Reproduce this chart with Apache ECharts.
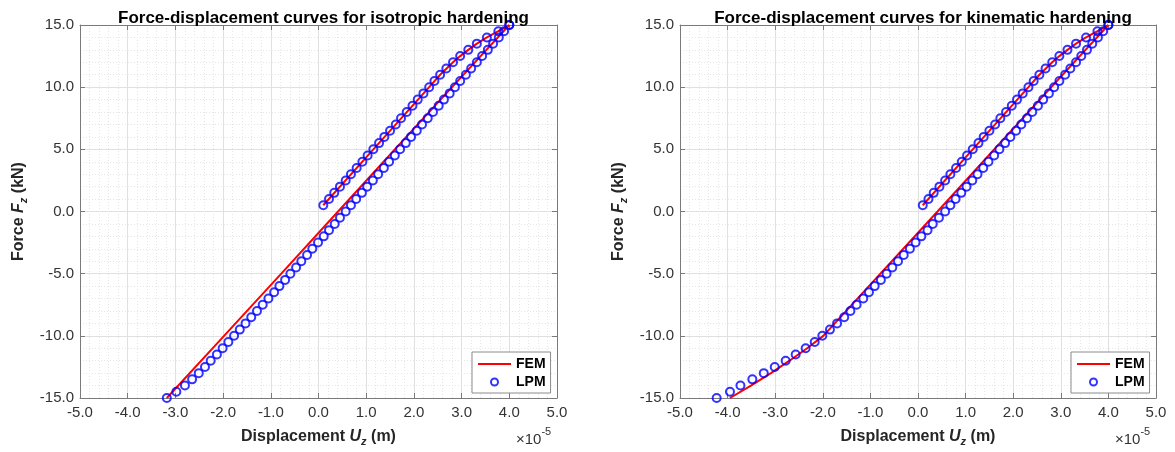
<!DOCTYPE html>
<html>
<head>
<meta charset="utf-8">
<title>Force-displacement curves</title>
<script src="https://cdn.jsdelivr.net/npm/echarts@6/dist/echarts.min.js"></script>
<style>
html, body { margin: 0; padding: 0; background: #fff; }
#container { width: 1175px; height: 452px; }
</style>
</head>
<body>
<div id="container"></div>
<script>
// displacement in 1e-5 m, force in kN
var titles = ['Force-displacement curves for isotropic hardening', 'Force-displacement curves for kinematic hardening'];
var xRange = [-5, 5], xStep = 1;
var yRange = [-15, 15], yStep = 5;

// LPM loading branch (same for both plots)
var loadF = [0.5, 1.0, 1.5, 2.0, 2.5, 3.0, 3.5, 4.0, 4.5, 5.0, 5.5, 6.0, 6.5, 7.0, 7.5,
             8.0, 8.5, 9.0, 9.5, 10.0, 10.5, 11.0, 11.5, 12.0, 12.5, 13.0, 13.5, 14.0, 14.5, 15.0];
var loadX = [0.10, 0.22, 0.33, 0.45, 0.57, 0.68, 0.80, 0.92, 1.03, 1.15, 1.27, 1.38, 1.50, 1.62, 1.73,
             1.85, 1.97, 2.08, 2.20, 2.32, 2.43, 2.55, 2.68, 2.82, 2.97, 3.14, 3.32, 3.53, 3.77, 4.00];

// LPM unloading branch
var unloadF = [15.0, 14.5, 14.0, 13.5, 13.0, 12.5, 12.0, 11.5, 11.0, 10.5, 10.0, 9.5, 9.0, 8.5, 8.0,
               7.5, 7.0, 6.5, 6.0, 5.5, 5.0, 4.5, 4.0, 3.5, 3.0, 2.5, 2.0, 1.5, 1.0, 0.5, 0.0,
               -0.5, -1.0, -1.5, -2.0, -2.5, -3.0, -3.5, -4.0, -4.5, -5.0, -5.5, -6.0, -6.5, -7.0, -7.5,
               -8.0, -8.5, -9.0, -9.5, -10.0, -10.5, -11.0, -11.5, -12.0, -12.5, -13.0, -13.5, -14.0, -14.5, -15.0];
var unloadIsoX = [4.00, 3.89, 3.78, 3.66, 3.55, 3.43, 3.32, 3.20, 3.09, 2.97, 2.86, 2.75, 2.63, 2.52, 2.40,
                  2.29, 2.17, 2.06, 1.94, 1.83, 1.71, 1.60, 1.48, 1.37, 1.25, 1.14, 1.02, 0.91, 0.79, 0.68, 0.57,
                  0.45, 0.34, 0.22, 0.11, -0.01, -0.13, -0.24, -0.36, -0.47, -0.59, -0.70, -0.82, -0.93, -1.05, -1.17,
                  -1.29, -1.41, -1.53, -1.65, -1.77, -1.89, -2.01, -2.13, -2.26, -2.38, -2.51, -2.65, -2.80, -2.98, -3.18];
var unloadKinX = [4.00, 3.89, 3.78, 3.66, 3.55, 3.43, 3.32, 3.20, 3.09, 2.97, 2.86, 2.75, 2.63, 2.52, 2.40,
                  2.29, 2.17, 2.06, 1.94, 1.83, 1.71, 1.60, 1.48, 1.37, 1.25, 1.14, 1.02, 0.91, 0.79, 0.68, 0.57,
                  0.44, 0.31, 0.20, 0.07, -0.05, -0.17, -0.30, -0.42, -0.54, -0.66, -0.78, -0.91, -1.03, -1.15, -1.29,
                  -1.42, -1.55, -1.70, -1.85, -2.01, -2.17, -2.36, -2.57, -2.78, -3.01, -3.24, -3.48, -3.73, -3.95, -4.23];

// FEM curves
var femLoadF = [0.5, 5.0, 10.0, 11.0, 12.0, 12.5, 13.0, 13.5, 14.0, 14.5, 15.0];
var femLoadX = [0.10, 1.15, 2.32, 2.55, 2.82, 2.97, 3.14, 3.32, 3.53, 3.77, 4.00];
var femIsoF = [15.0, 10.0, 5.0, 0.0, -5.0, -10.0, -15.0];
var femIsoX = [4.00, 2.80, 1.60, 0.41, -0.78, -1.98, -3.18];
var femKinF = [15.0, 10.0, 5.0, 0.0, -5.0, -10.0, -11.0, -12.0, -13.0, -14.0, -15.0];
var femKinX = [4.00, 2.80, 1.60, 0.41, -0.79, -1.99, -2.33, -2.70, -3.09, -3.51, -3.95];

function pairs(xs, ys) {
    var out = [];
    for (var i = 0; i < xs.length; i++) out.push([xs[i], ys[i]]);
    return out;
}

var font = '"Liberation Sans", Arial, sans-serif';
var axisColor = '#7a7a7a';
var labelColor = '#333';
var grids = [
    {left: 80, top: 25, width: 477, height: 374},
    {left: 680, top: 25, width: 476, height: 374}
];

var nameRich = {
    i: {fontStyle: 'italic', fontWeight: 'bold', fontSize: 16, fontFamily: font, color: '#262626', lineHeight: 20},
    s: {fontStyle: 'italic', fontWeight: 'bold', fontSize: 11, fontFamily: font, color: '#262626', lineHeight: 11, verticalAlign: 'bottom'}
};
var nameStyle = {fontWeight: 'bold', fontSize: 16, fontFamily: font, color: '#262626', lineHeight: 20, rich: nameRich};

var xAxes = [], yAxes = [], titleList = [], legends = [], graphics = [];
grids.forEach(function (g, k) {
    var fmt = function (v) { return v.toFixed(1); };
    xAxes.push({
        type: 'value', gridIndex: k, min: xRange[0], max: xRange[1], interval: xStep,
        name: 'Displacement {i|U}{s|z} (m)', nameLocation: 'middle', nameGap: 29, nameTextStyle: nameStyle,
        axisLine: {onZero: false, lineStyle: {color: axisColor, width: 1}},
        axisTick: {inside: true, length: 5, lineStyle: {color: axisColor}},
        axisLabel: {formatter: fmt, color: labelColor, fontSize: 15, fontFamily: font, margin: 7},
        splitLine: {show: true, lineStyle: {color: '#e0e0e0', width: 1}},
        minorTick: {show: false, splitNumber: 5},
        minorSplitLine: {show: true, lineStyle: {color: '#e6e6e6', type: [1, 2], width: 1}}
    });
    xAxes.push({
        type: 'value', gridIndex: k, position: 'top', min: xRange[0], max: xRange[1], interval: xStep,
        axisLine: {onZero: false, lineStyle: {color: axisColor, width: 1}},
        axisTick: {inside: true, length: 5, lineStyle: {color: axisColor}},
        axisLabel: {show: false}, splitLine: {show: false}
    });
    yAxes.push({
        type: 'value', gridIndex: k, min: yRange[0], max: yRange[1], interval: yStep,
        name: 'Force {i|F}{s|z} (kN)', nameLocation: 'middle', nameRotate: 90, nameGap: 51, nameTextStyle: nameStyle,
        axisLine: {show: true, onZero: false, lineStyle: {color: axisColor, width: 1}},
        axisTick: {show: true, inside: true, length: 5, lineStyle: {color: axisColor}},
        axisLabel: {formatter: fmt, color: labelColor, fontSize: 15, fontFamily: font, margin: 6},
        splitLine: {show: true, lineStyle: {color: '#e0e0e0', width: 1}},
        minorTick: {show: false, splitNumber: 5},
        minorSplitLine: {show: true, lineStyle: {color: '#e6e6e6', type: [1, 2], width: 1}}
    });
    yAxes.push({
        type: 'value', gridIndex: k, position: 'right', min: yRange[0], max: yRange[1], interval: yStep,
        axisLine: {show: true, onZero: false, lineStyle: {color: axisColor, width: 1}},
        axisTick: {show: true, inside: true, length: 5, lineStyle: {color: axisColor}},
        axisLabel: {show: false}, splitLine: {show: false}
    });
    titleList.push({
        text: titles[k], left: g.left + g.width / 2, top: 5, textAlign: 'center',
        textStyle: {fontWeight: 'bold', fontSize: 17, fontFamily: font, color: '#000'}
    });
    legends.push({
        data: [
            {name: 'FEM', itemStyle: {color: 'rgba(0,0,0,0)', borderWidth: 0}},
            {name: 'LPM', icon: 'circle', itemStyle: {color: '#fff', borderColor: '#0000ff', borderWidth: 2}}
        ],
        orient: 'vertical', left: g.left + g.width - 85, top: 352,
        itemWidth: 33, itemHeight: 7, itemGap: 4, padding: [5, 5, 4, 5],
        backgroundColor: '#fff', borderColor: '#8c8c8c', borderWidth: 1, borderRadius: 0,
        textStyle: {fontWeight: 'bold', fontSize: 14, fontFamily: font, color: '#000'}
    });
    graphics.push({
        type: 'text', left: g.left + g.width - 41, top: 426,
        style: {
            text: '{m|\u00d710}{sup|-5}', fill: labelColor, fontSize: 15, fontFamily: font,
            rich: {
                m: {fontSize: 15, fontFamily: font, fill: labelColor, lineHeight: 21, verticalAlign: 'bottom'},
                sup: {fontSize: 11, fontFamily: font, fill: labelColor, lineHeight: 11, verticalAlign: 'top'}
            }
        }
    });
});

var lpmStyle = {color: 'rgba(0,0,0,0)', borderColor: '#0000ff', borderWidth: 2};
var series = [
    {name: 'FEM', type: 'line', xAxisIndex: 0, yAxisIndex: 0, symbol: 'none', z: 2,
     lineStyle: {color: '#ff0000', width: 2}, itemStyle: {color: '#ff0000'},
     data: pairs(femLoadX, femLoadF).concat(pairs(femIsoX, femIsoF))},
    {name: 'LPM', type: 'scatter', xAxisIndex: 0, yAxisIndex: 0, symbol: 'circle', symbolSize: 8, z: 3,
     itemStyle: lpmStyle, data: pairs(loadX, loadF).concat(pairs(unloadIsoX, unloadF))},
    {name: 'FEM', type: 'line', xAxisIndex: 2, yAxisIndex: 2, symbol: 'none', z: 2,
     lineStyle: {color: '#ff0000', width: 2}, itemStyle: {color: '#ff0000'},
     data: pairs(femLoadX, femLoadF).concat(pairs(femKinX, femKinF))},
    {name: 'LPM', type: 'scatter', xAxisIndex: 2, yAxisIndex: 2, symbol: 'circle', symbolSize: 8, z: 3,
     itemStyle: lpmStyle, data: pairs(loadX, loadF).concat(pairs(unloadKinX, unloadF))}
];

var myChart = echarts.init(document.getElementById('container'));
var option = {
    backgroundColor: '#fff',
    animation: false,
    title: titleList,
    legend: legends,
    grid: grids,
    xAxis: xAxes,
    yAxis: yAxes,
    graphic: graphics,
    series: series
};
myChart.setOption(option);
</script>
</body>
</html>
